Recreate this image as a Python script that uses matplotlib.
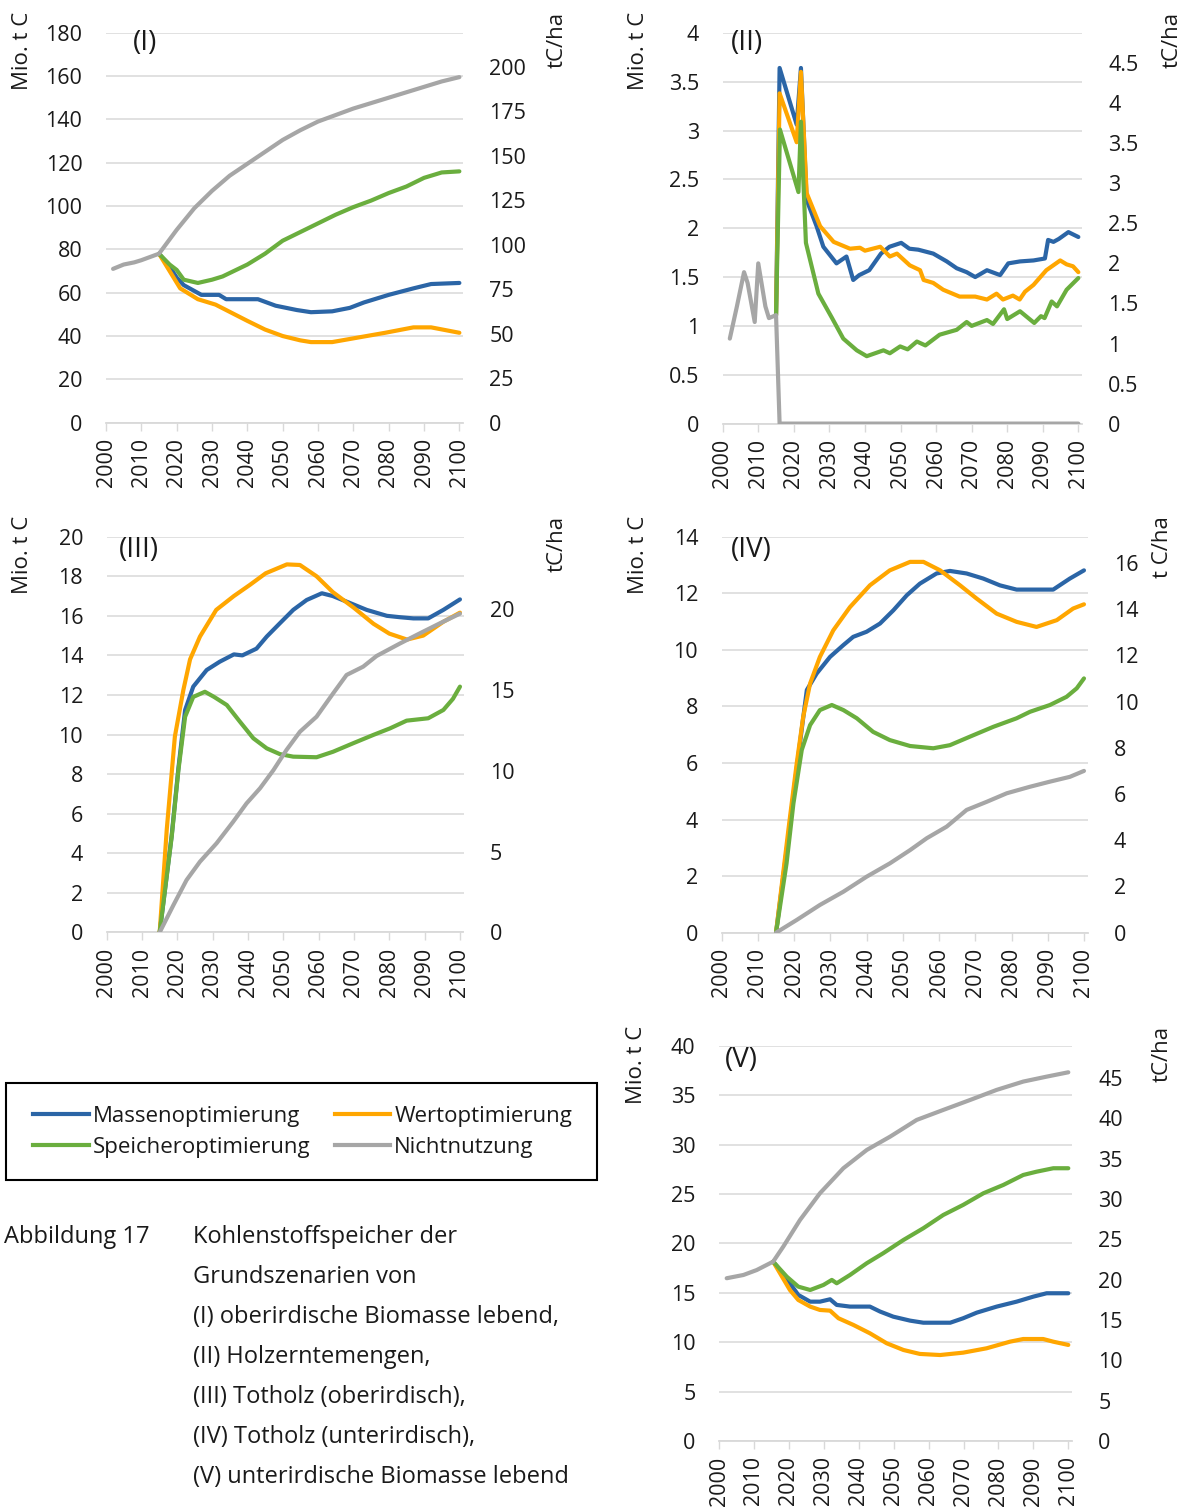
import matplotlib
matplotlib.use("Agg")
import matplotlib.pyplot as plt
from matplotlib.lines import Line2D
from matplotlib.patches import Rectangle

plt.rcParams['font.family'] = ['Open Sans', 'DejaVu Sans']

# ---------------- data ----------------
SERIES_NAMES = ["Massenoptimierung", "Wertoptimierung", "Speicheroptimierung", "Nichtnutzung"]
COLORS = ["#2B65A6", "#FFA600", "#6AAE3E", "#A6A6A6"]
X_TICKS = [2000, 2010, 2020, 2030, 2040, 2050, 2060, 2070, 2080, 2090, 2100]

# Panel I  (oberirdische Biomasse lebend)
P1_BLUE_YEARS = [2015, 2018, 2020, 2022, 2027, 2032, 2034, 2043, 2048, 2054, 2058, 2064, 2069, 2073, 2080, 2087, 2092, 2100]
P1_BLUE_VALUES = [78, 72, 67, 63.5, 59, 59, 57, 57, 54, 52, 51, 51.4, 53, 55.5, 59, 62, 64, 64.5]
P1_ORANGE_YEARS = [2015, 2018, 2021, 2026, 2031, 2034, 2040, 2045, 2050, 2055, 2058, 2064, 2072, 2079, 2087, 2092, 2100]
P1_ORANGE_VALUES = [78, 70, 62, 57, 54.5, 52, 47, 43, 40, 38, 37.2, 37.2, 39.5, 41.5, 44, 44, 41.5]
P1_GREEN_YEARS = [2015, 2018, 2020, 2022, 2026, 2030, 2033, 2040, 2045, 2050, 2055, 2060, 2065, 2070, 2075, 2080, 2085, 2090, 2095, 2100]
P1_GREEN_VALUES = [78, 73, 70.5, 66, 64.5, 66, 67.5, 73, 78, 84, 88, 92, 96, 99.5, 102.5, 106, 109, 113, 115.5, 116]
P1_GRAY_YEARS = [2002, 2005, 2008, 2010, 2015, 2020, 2025, 2030, 2035, 2040, 2045, 2050, 2055, 2060, 2065, 2070, 2075,
                 2080, 2085, 2090, 2095, 2100]
P1_GRAY_VALUES = [71, 73, 74, 75, 78, 89, 99, 107, 114, 119.5, 125, 130.5, 135, 139, 142, 145, 147.5,
                  150, 152.5, 155, 157.5, 159.5]

# Panel II  (Holzerntemengen)
P2_BLUE_YEARS = [2015, 2016, 2020.8, 2022, 2023.6, 2026.4, 2028.3, 2032, 2034.8, 2036.7, 2038.4, 2041.2, 2044.5, 2046.9,
                 2050.2, 2052.5, 2055, 2059.2, 2063, 2065.8, 2068.6, 2071, 2074.3, 2078, 2080.3, 2083.6, 2087.4, 2090.6,
                 2091.5, 2093, 2094.5, 2097.2, 2100]
P2_BLUE_VALUES = [1.11, 3.64, 3.06, 3.64, 2.29, 2.02, 1.81, 1.64, 1.71, 1.47, 1.52, 1.57, 1.74, 1.81,
                  1.85, 1.79, 1.78, 1.74, 1.66, 1.59, 1.55, 1.50, 1.57, 1.52, 1.64, 1.66, 1.67, 1.69,
                  1.88, 1.86, 1.89, 1.96, 1.91]
P2_ORANGE_YEARS = [2015, 2016, 2020.8, 2022, 2023.6, 2027.4, 2031.2, 2035.8, 2038.6, 2040, 2044.3, 2047, 2049, 2052.6,
                   2055.5, 2056.5, 2059.2, 2062, 2066.6, 2071, 2074.3, 2077, 2078.8, 2081.6, 2083.5, 2085, 2087.4, 2091,
                   2094.9, 2096.7, 2098.5, 2100]
P2_ORANGE_VALUES = [1.11, 3.38, 2.88, 3.60, 2.36, 2.02, 1.86, 1.79, 1.80, 1.77, 1.81, 1.71, 1.74, 1.62,
                    1.57, 1.47, 1.44, 1.37, 1.30, 1.30, 1.27, 1.33, 1.27, 1.31, 1.27, 1.35, 1.42, 1.57,
                    1.67, 1.63, 1.61, 1.55]
P2_GREEN_YEARS = [2015, 2016.1, 2021.3, 2022, 2023.4, 2026.9, 2030.6, 2033.9, 2037.7, 2040.5, 2045.2, 2047, 2049.9, 2052,
                  2054.6, 2057, 2061, 2065.8, 2068.6, 2070, 2074.3, 2076, 2079.1, 2080, 2083.6, 2087.6, 2089.5, 2090.5,
                  2092.5, 2094, 2096.7, 2100]
P2_GREEN_VALUES = [1.11, 3.01, 2.37, 3.09, 1.85, 1.33, 1.09, 0.87, 0.75, 0.69, 0.75, 0.72, 0.79, 0.76,
                   0.84, 0.80, 0.91, 0.96, 1.04, 1.00, 1.06, 1.02, 1.17, 1.07, 1.15, 1.03, 1.10, 1.08,
                   1.25, 1.20, 1.37, 1.49]
P2_GRAY_YEARS = [2002, 2004, 2006, 2007, 2009, 2010, 2012, 2013, 2015, 2016, 2100]
P2_GRAY_VALUES = [0.87, 1.20, 1.55, 1.44, 1.04, 1.64, 1.20, 1.08, 1.11, 0.0, 0.0]

# Panel III  (Totholz oberirdisch)
P3_BLUE_YEARS = [2015, 2018.4, 2020.3, 2022.2, 2024.5, 2028.3, 2032, 2036, 2038.4, 2042.4, 2045.3, 2049, 2052.8, 2056.6,
                 2060.9, 2064, 2068, 2073.6, 2079.3, 2083, 2086.8, 2091, 2095.3, 2100]
P3_BLUE_VALUES = [0, 4.9, 8.3, 11.24, 12.42, 13.26, 13.68, 14.05, 14.0, 14.34, 14.95, 15.62, 16.3, 16.8,
                  17.14, 17.0, 16.71, 16.3, 16.0, 15.93, 15.87, 15.87, 16.3, 16.83]
P3_ORANGE_YEARS = [2015, 2017, 2019.3, 2021.7, 2023.6, 2026.4, 2031, 2036, 2040.5, 2045, 2051, 2054.7, 2059.4, 2064,
                   2070, 2075.5, 2080, 2085, 2089.6, 2095.3, 2100]
P3_ORANGE_VALUES = [0, 5.2, 9.9, 12.25, 13.8, 14.95, 16.3, 17.0, 17.56, 18.15, 18.6, 18.57, 18.0, 17.2,
                    16.4, 15.6, 15.1, 14.8, 15.0, 15.7, 16.16]
P3_GREEN_YEARS = [2015, 2018.4, 2020.3, 2022.2, 2024.5, 2027.8, 2030.4, 2034, 2037.7, 2041.5, 2045.3, 2049, 2052.8,
                  2059.4, 2064.1, 2069.8, 2075.5, 2080.2, 2084.9, 2091, 2095.3, 2098, 2100]
P3_GREEN_VALUES = [0, 4.83, 8.2, 10.9, 11.9, 12.16, 11.9, 11.49, 10.65, 9.81, 9.3, 9.01, 8.88,
                   8.85, 9.13, 9.56, 9.98, 10.31, 10.7, 10.82, 11.24, 11.8, 12.42]
P3_GRAY_YEARS = [2015, 2018.9, 2022.6, 2026.4, 2031.1, 2035.8, 2039.6, 2043.4, 2047.2, 2050.9, 2054.7, 2059.4, 2064.1,
                 2067.9, 2072.6, 2076.4, 2083, 2088.7, 2094.3, 2100]
P3_GRAY_VALUES = [0, 1.38, 2.64, 3.57, 4.5, 5.59, 6.52, 7.28, 8.2, 9.22, 10.14, 10.9, 12.08,
                  13.01, 13.43, 13.97, 14.6, 15.12, 15.62, 16.11]

# Panel IV  (Totholz unterirdisch)
P4_BLUE_YEARS = [2015, 2018.4, 2020.7, 2022.5, 2023.5, 2026.2, 2029.9, 2033.6, 2036.3, 2040, 2043.7, 2047.4, 2051.1,
                 2054.7, 2059.3, 2063, 2067.6, 2072.2, 2076.8, 2081.4, 2086.9, 2091.5, 2096.1, 2100]
P4_BLUE_VALUES = [0, 3.4, 5.8, 7.6, 8.58, 9.16, 9.75, 10.17, 10.46, 10.64, 10.93, 11.4, 11.93,
                  12.34, 12.7, 12.79, 12.7, 12.52, 12.28, 12.13, 12.13, 12.13, 12.52, 12.81]
P4_ORANGE_YEARS = [2015, 2018.4, 2020.7, 2022.5, 2024.4, 2027.1, 2030.8, 2035.4, 2040.9, 2046.4, 2052, 2055.7, 2060.3,
                   2065.8, 2070.4, 2075.9, 2081.4, 2086.9, 2092.5, 2097, 2100]
P4_ORANGE_VALUES = [0, 3.63, 5.98, 7.63, 8.81, 9.75, 10.69, 11.51, 12.28, 12.81, 13.11, 13.11, 12.81,
                    12.28, 11.81, 11.28, 10.99, 10.81, 11.05, 11.46, 11.61]
P4_GREEN_YEARS = [2015, 2017.9, 2019.8, 2022.1, 2024.4, 2027.1, 2030.4, 2033.6, 2037.3, 2041.8, 2046.4, 2052, 2058.4,
                  2063, 2068.5, 2075, 2081.4, 2085.1, 2090.6, 2095.2, 2098, 2100]
P4_GREEN_VALUES = [0, 2.45, 4.57, 6.46, 7.34, 7.87, 8.05, 7.87, 7.58, 7.1, 6.81, 6.6, 6.52,
                   6.63, 6.93, 7.28, 7.58, 7.81, 8.05, 8.34, 8.64, 8.99]
P4_GRAY_YEARS = [2015, 2020.7, 2027.1, 2033.6, 2040, 2046.4, 2052, 2056.6, 2062.1, 2067.6, 2073.2, 2078.7, 2085.1,
                 2090.6, 2096.1, 2100]
P4_GRAY_VALUES = [0, 0.45, 0.98, 1.45, 1.98, 2.45, 2.92, 3.34, 3.75, 4.34, 4.63, 4.93, 5.16,
                  5.34, 5.51, 5.72]

# Panel V  (unterirdische Biomasse lebend)
P5_BLUE_YEARS = [2015.5, 2019.4, 2022.7, 2026.1, 2028.9, 2031.8, 2033.7, 2037.5, 2043.2, 2046.1, 2049.9, 2054.7, 2058.5,
                 2066.2, 2069.9, 2073.8, 2079.5, 2085.2, 2090, 2093.8, 2100]
P5_BLUE_VALUES = [18.15, 16.4, 14.78, 14.1, 14.1, 14.34, 13.77, 13.6, 13.6, 13.1, 12.58, 12.18, 11.97,
                  11.97, 12.42, 12.99, 13.6, 14.1, 14.61, 14.95, 14.95]
P5_ORANGE_YEARS = [2015.5, 2020.3, 2022.7, 2026.1, 2028.9, 2031.8, 2034.2, 2038.5, 2043.2, 2048, 2052.8, 2057.5, 2063.3,
                   2069.9, 2076.6, 2083.3, 2087.1, 2092.8, 2095.7, 2100]
P5_ORANGE_VALUES = [18.15, 15.28, 14.27, 13.6, 13.26, 13.19, 12.42, 11.74, 10.9, 9.89, 9.21, 8.81, 8.7,
                    8.94, 9.38, 10.05, 10.32, 10.32, 10.05, 9.72]
P5_GREEN_YEARS = [2015.5, 2019.4, 2022.7, 2026.1, 2029.9, 2032.3, 2033.7, 2037.5, 2042.3, 2047, 2052.8, 2058.5, 2064.2,
                  2069.9, 2075.7, 2081.4, 2087.1, 2090.9, 2095.7, 2100]
P5_GREEN_VALUES = [18.15, 16.63, 15.62, 15.28, 15.79, 16.3, 15.96, 16.8, 17.99, 19.0, 20.34, 21.53, 22.87,
                   23.89, 25.07, 25.91, 26.92, 27.25, 27.6, 27.6]
P5_GRAY_YEARS = [2002.2, 2007, 2010.8, 2015.5, 2018.4, 2023.2, 2028.9, 2035.6, 2042.3, 2049, 2056.6, 2064.2, 2071.9,
                 2079.5, 2087.1, 2093.8, 2100]
P5_GRAY_VALUES = [16.47, 16.8, 17.3, 18.15, 19.67, 22.37, 25.07, 27.6, 29.45, 30.8, 32.49, 33.5, 34.51,
                  35.53, 36.37, 36.87, 37.31]

# axis scales
P1_LEFT_TICKS = list(range(0, 181, 20)); P1_RIGHT_TICKS = list(range(0, 201, 25))
P2_LEFT_TICKS = [0, 0.5, 1, 1.5, 2, 2.5, 3, 3.5, 4]; P2_RIGHT_TICKS = [0, 0.5, 1, 1.5, 2, 2.5, 3, 3.5, 4, 4.5]
P3_LEFT_TICKS = list(range(0, 21, 2)); P3_RIGHT_TICKS = [0, 5, 10, 15, 20]
P4_LEFT_TICKS = list(range(0, 15, 2)); P4_RIGHT_TICKS = list(range(0, 17, 2))
P5_LEFT_TICKS = list(range(0, 41, 5)); P5_RIGHT_TICKS = list(range(0, 46, 5))

# ---------------- figure ----------------
W, H = 1194, 1508
fig = plt.figure(figsize=(W / 100, H / 100), dpi=100)

def fig_x(px):
    return px / W

def fig_y(py):
    return 1 - py / H

FS = 15.5
LAB_FS = 16
GRID_C = "#D9D9D9"
TXT_C = "#1A1A1A"

def fmt(v):
    return "%g" % v

def panel(rect_px, series, left_ticks, right_ticks, right_max, label, label_pos, ylab_x, rlab, rlab_x, ylab_top):
    x0, y0, x1, y1 = rect_px
    ax = fig.add_axes([fig_x(x0), fig_y(y1), (x1 - x0) / W, (y1 - y0) / H])
    for (yrs, vals), c in zip(series, COLORS):
        ax.plot(yrs, vals, color=c, lw=3.0, solid_joinstyle="round", solid_capstyle="round", zorder=3)
    ax.set_xlim(2000, 2101)
    ax.set_ylim(left_ticks[0], left_ticks[-1])
    ax.set_yticks(left_ticks)
    ax.set_yticklabels([fmt(v) for v in left_ticks])
    ax.set_xticks(X_TICKS)
    ax.set_xticklabels([str(t) for t in X_TICKS], rotation=90)
    for s in ["top", "left", "right"]:
        ax.spines[s].set_visible(False)
    ax.spines["bottom"].set_color(GRID_C)
    ax.spines["bottom"].set_linewidth(1.3)
    ax.grid(axis="y", color=GRID_C, lw=1.1)
    ax.set_axisbelow(True)
    ax.tick_params(axis="y", length=0, pad=17, labelsize=FS, labelcolor=TXT_C)
    ax.tick_params(axis="x", length=6, width=1.0, color=GRID_C, pad=5, labelsize=FS, labelcolor=TXT_C)
    ax2 = ax.twinx()
    ax2.set_ylim(0, right_max)
    ax2.set_yticks(right_ticks)
    ax2.set_yticklabels([fmt(v) for v in right_ticks])
    for s in ["top", "left", "right", "bottom"]:
        ax2.spines[s].set_visible(False)
    ax2.tick_params(axis="y", length=0, pad=19, labelsize=FS, labelcolor=TXT_C)
    fig.text(fig_x(label_pos[0]), fig_y(label_pos[1]), label, fontsize=20, ha="left", va="top", color=TXT_C)
    fig.text(fig_x(ylab_x), fig_y(ylab_top), "Mio. t C", rotation=90, fontsize=LAB_FS, ha="center", va="top", color=TXT_C)
    fig.text(fig_x(rlab_x), fig_y(ylab_top), rlab, rotation=90, fontsize=LAB_FS, ha="center", va="top", color=TXT_C)
    return ax

panel((106, 32.7, 462.9, 422.7),
      [(P1_BLUE_YEARS, P1_BLUE_VALUES), (P1_ORANGE_YEARS, P1_ORANGE_VALUES),
       (P1_GREEN_YEARS, P1_GREEN_VALUES), (P1_GRAY_YEARS, P1_GRAY_VALUES)],
      P1_LEFT_TICKS, P1_RIGHT_TICKS, 219.0, "(I)", (133, 29), 23, "tC/ha", 557, 12)
panel((722.7, 32.8, 1081.9, 423.6),
      [(P2_BLUE_YEARS, P2_BLUE_VALUES), (P2_ORANGE_YEARS, P2_ORANGE_VALUES),
       (P2_GREEN_YEARS, P2_GREEN_VALUES), (P2_GRAY_YEARS, P2_GRAY_VALUES)],
      P2_LEFT_TICKS, P2_RIGHT_TICKS, 4.88, "(II)", (731, 29), 638, "tC/ha", 1172, 12)
panel((106.7, 536.7, 463.5, 932.3),
      [(P3_BLUE_YEARS, P3_BLUE_VALUES), (P3_ORANGE_YEARS, P3_ORANGE_VALUES),
       (P3_GREEN_YEARS, P3_GREEN_VALUES), (P3_GRAY_YEARS, P3_GRAY_VALUES)],
      P3_LEFT_TICKS, P3_RIGHT_TICKS, 24.5, "(III)", (119, 536), 23, "tC/ha", 557, 516)
panel((721.7, 536.7, 1087.6, 932.7),
      [(P4_BLUE_YEARS, P4_BLUE_VALUES), (P4_ORANGE_YEARS, P4_ORANGE_VALUES),
       (P4_GREEN_YEARS, P4_GREEN_VALUES), (P4_GRAY_YEARS, P4_GRAY_VALUES)],
      P4_LEFT_TICKS, P4_RIGHT_TICKS, 17.14, "(IV)", (731, 536), 638, "t C/ha", 1162, 516)
panel((719, 1045.7, 1071.8, 1441),
      [(P5_BLUE_YEARS, P5_BLUE_VALUES), (P5_ORANGE_YEARS, P5_ORANGE_VALUES),
       (P5_GREEN_YEARS, P5_GREEN_VALUES), (P5_GRAY_YEARS, P5_GRAY_VALUES)],
      P5_LEFT_TICKS, P5_RIGHT_TICKS, 49.0, "(V)", (725, 1046), 636, "tC/ha", 1162, 1026)

# legend (frame drawn separately)
fig.add_artist(Rectangle((fig_x(6), fig_y(1180)), (597 - 6) / W, (1180 - 1083) / H,
                         transform=fig.transFigure, fill=False, edgecolor="black", lw=1.5))
handles = [Line2D([0], [0], color=c, lw=3.0) for c in COLORS]
order = [0, 2, 1, 3]
leg = fig.legend([handles[i] for i in order], [SERIES_NAMES[i] for i in order], ncol=2,
                 loc="upper left", bbox_to_anchor=(fig_x(33), fig_y(1106)),
                 fontsize=16, frameon=False,
                 handlelength=2.5, handletextpad=0.18, columnspacing=1.1, labelspacing=0.45,
                 borderpad=0.0, borderaxespad=0.0)
for t in leg.get_texts():
    t.set_color(TXT_C)

# caption
CAPTION_LINES = ["Kohlenstoffspeicher der", "Grundszenarien von", "(I) oberirdische Biomasse lebend,",
                 "(II) Holzerntemengen,", "(III) Totholz (oberirdisch),", "(IV) Totholz (unterirdisch),",
                 "(V) unterirdische Biomasse lebend"]
fig.text(fig_x(4), fig_y(1237), "Abbildung 17", fontsize=17, ha="left", va="center", color=TXT_C)
for i, line in enumerate(CAPTION_LINES):
    fig.text(fig_x(193), fig_y(1237 + 40 * i), line, fontsize=17, ha="left", va="center", color=TXT_C)

fig.savefig("out.png", dpi=100)
